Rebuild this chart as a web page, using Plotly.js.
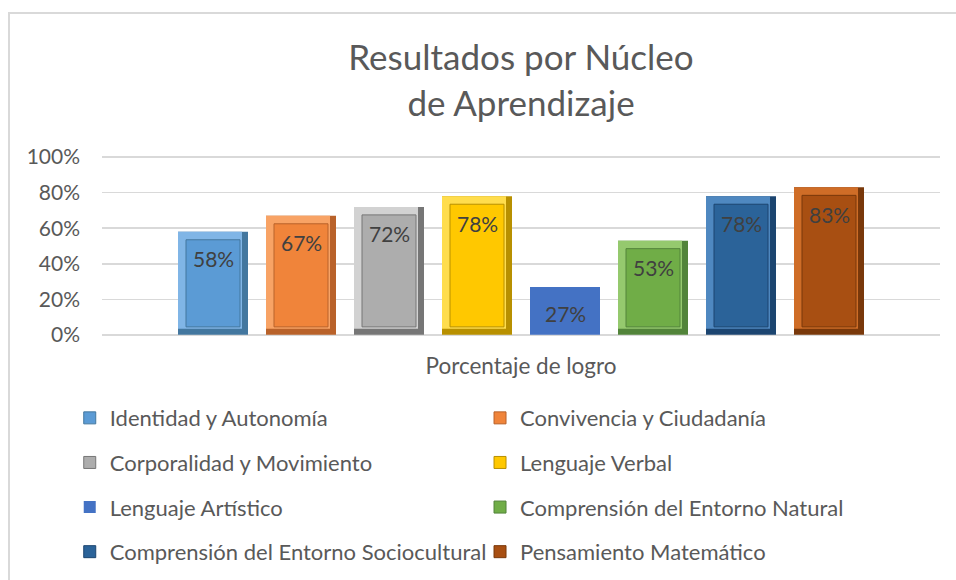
<!DOCTYPE html>
<html>
<head>
<meta charset="utf-8">
<script src="https://cdn.plot.ly/plotly-3.0.1.min.js"></script>
<style>
  body { margin: 0; overflow: hidden; background: #fff; }
  #chart { width: 956px; height: 580px; }
  #marco { position: absolute; left: 8px; top: 12px; width: 1000px; height: 700px;
           border: 2px solid #d9d9d9; pointer-events: none; }
</style>
</head>
<body>
<div id="chart"></div>
<div id="marco"></div>
<script>
// Datos del gráfico
const categoria = ['Porcentaje de logro'];
const nucleos = [
    'Identidad y Autonomía',
    'Convivencia y Ciudadanía',
    'Corporalidad y Movimiento',
    'Lenguaje Verbal',
    'Lenguaje Artístico',
    'Comprensión del Entorno Natural',
    'Comprensión del Entorno Sociocultural',
    'Pensamiento Matemático'
];
const logros = [0.58, 0.67, 0.72, 0.78, 0.27, 0.53, 0.78, 0.83];

// Colores: base, borde claro y borde oscuro del bisel
const colores = ['#5b9bd5', '#f0843a', '#adadad', '#ffc800', '#4472c4', '#70ad47', '#2b6399', '#a84f12'];
const claros  = ['#80b5e6', '#f8a365', '#d2d2d2', '#ffdd4d', '#4472c4', '#95c96e', '#4f88c0', '#cf6d27'];
const oscuros = ['#43779f', '#b9622a', '#767676', '#b89000', '#4472c4', '#52843a', '#1c4570', '#79380a'];
const conBisel = [true, true, true, true, false, true, true, true];

const fuente = 'Lato, "Open Sans", sans-serif';
const gris = '#595959';

// Medidas del área de trazado (px) para ubicar las barras dentro de la categoría
const anchoPx = 838, altoPx = 182 / 1.024;
const ranura = 88 / anchoPx;
const anchoBarra = 70 / anchoPx;
const inicio = -0.5 + 76 / anchoPx;
const bx = 8 / anchoPx, by = 8 / altoPx;
const ox = 6 / anchoPx, oy = 6 / altoPx;

const data = [];
const anotaciones = [];

nucleos.forEach(function(nombre, i) {
    const off = inicio + i * ranura;
    const leyenda = i % 2 === 0 ? 'legend' : 'legend2';
    const v = logros[i];

    if (conBisel[i]) {
        // borde oscuro (derecha y abajo)
        data.push({
            type: 'bar', x: categoria, y: [v], offset: off, width: anchoBarra,
            marker: {color: oscuros[i]}, legendgroup: nombre, showlegend: false, legend: leyenda
        });
        // borde claro (izquierda y arriba)
        data.push({
            type: 'bar', x: categoria, y: [v - oy], base: oy, offset: off, width: anchoBarra - ox,
            marker: {color: claros[i]}, legendgroup: nombre, showlegend: false, legend: leyenda
        });
        // cara interior
        data.push({
            type: 'bar', x: categoria, y: [v - 2 * by], base: by, offset: off + bx, width: anchoBarra - 2 * bx,
            marker: {color: colores[i], line: {color: oscuros[i], width: 1}},
            name: nombre, legendgroup: nombre, legend: leyenda
        });
    } else {
        data.push({
            type: 'bar', x: categoria, y: [v], offset: off, width: anchoBarra,
            marker: {color: colores[i]}, name: nombre, legendgroup: nombre, legend: leyenda
        });
    }

    anotaciones.push({
        xref: 'x', yref: 'y', x: off + anchoBarra / 2, y: v, yshift: -27,
        text: Math.round(v * 100) + '%', showarrow: false,
        font: {family: fuente, size: 21, color: '#404040'}
    });
});

const estiloLeyenda = {
    xanchor: 'left',
    y: -0.33, yanchor: 'top',
    orientation: 'v',
    traceorder: 'grouped',
    tracegroupgap: 13,
    bgcolor: 'rgba(0,0,0,0)',
    font: {family: fuente, size: 22, color: gris}
};

const layout = {
    width: 956,
    height: 580,
    margin: {l: 102, r: 16, t: 155, b: 243, autoexpand: false},
    paper_bgcolor: '#ffffff',
    plot_bgcolor: '#ffffff',
    barmode: 'overlay',
    font: {family: fuente, color: gris},
    title: {
        text: 'Resultados por Núcleo<br>de Aprendizaje',
        font: {family: fuente, size: 35, color: gris},
        x: 0.5, xref: 'paper', yref: 'container', y: 1 - 70 / 580, yanchor: 'middle'
    },
    xaxis: {
        type: 'category',
        range: [-0.5, 0.5],
        showgrid: false,
        showline: false,
        ticks: '',
        ticklabelstandoff: 13,
        tickfont: {family: fuente, size: 22.5, color: gris}
    },
    yaxis: {
        range: [-0.012, 1.012],
        tickvals: [0, 0.2, 0.4, 0.6, 0.8, 1],
        tickformat: '.0%',
        gridcolor: '#d9d9d9',
        gridwidth: 1.5,
        zeroline: false,
        showline: false,
        ticks: '',
        ticklabelstandoff: 21,
        tickfont: {family: fuente, size: 21, color: gris}
    },
    legend: Object.assign({x: -0.0385}, estiloLeyenda),
    legend2: Object.assign({x: 0.4511}, estiloLeyenda),
    annotations: anotaciones,
    hovermode: false
};

Plotly.newPlot('chart', data, layout, {staticPlot: true, displayModeBar: false});
</script>
</body>
</html>
